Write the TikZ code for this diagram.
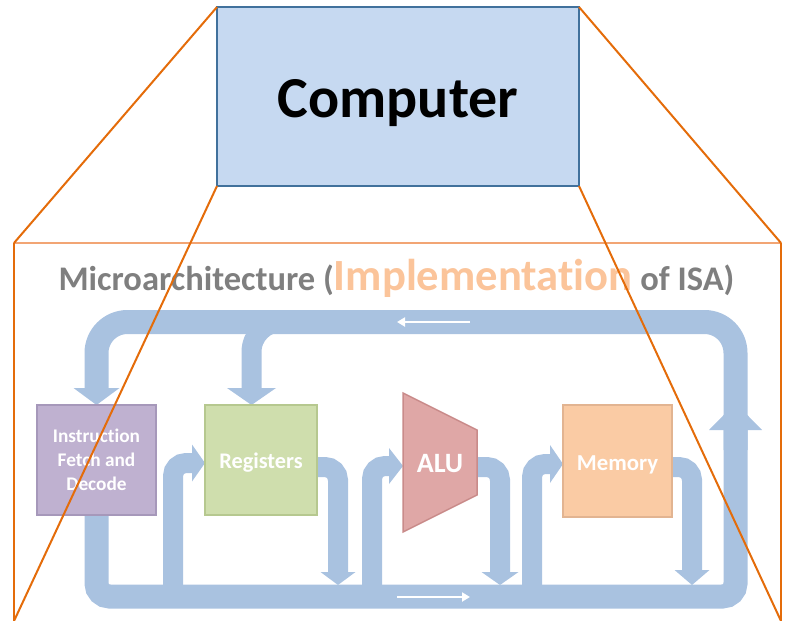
\documentclass[tikz,border=0pt]{standalone}
\usepackage{fontspec}
\setmainfont[Ligatures={NoCommon}]{Carlito}
\usetikzlibrary{arrows.meta}
\pgfdeclarelayer{bg}
\pgfsetlayers{bg,main}
\definecolor{bandc}{RGB}{169,194,224}
\definecolor{compfill}{RGB}{198,217,241}
\definecolor{compdraw}{RGB}{65,113,156}
\definecolor{orgD}{RGB}{228,108,10}
\definecolor{orgL}{RGB}{242,165,116}
\definecolor{ifdfill}{RGB}{191,177,208}
\definecolor{ifddraw}{RGB}{166,152,186}
\definecolor{regfill}{RGB}{207,222,173}
\definecolor{regdraw}{RGB}{182,200,143}
\definecolor{alufill}{RGB}{223,167,166}
\definecolor{aludraw}{RGB}{201,139,138}
\definecolor{memfill}{RGB}{250,203,164}
\definecolor{memdraw}{RGB}{226,180,145}
\definecolor{titlegrey}{RGB}{127,127,127}
\definecolor{implc}{RGB}{251,196,154}
\begin{document}
\begin{tikzpicture}[x=1pt,y=-1pt,
  bandwide/.style={draw=bandc,line width=24pt,line cap=butt},
  bandnarrow/.style={draw=bandc,line width=20pt,line cap=butt,rounded corners=13pt},
  unitbox/.style={rectangle,inner sep=0pt,outer sep=0pt,line width=1.5pt,text=white},
  whitearrow/.style={draw=white,line width=2.5pt,-{Triangle[width=9pt,length=8pt]}},
  orangeline/.style={draw=orgD,line width=2pt}
]
\useasboundingbox (0,0) rectangle (793,621);

% ---------- nodes ----------
\node[draw=compdraw, fill=compfill, line width=2pt, minimum width=362pt, minimum height=179pt,
      inner sep=0pt, outer sep=0pt, font=\bfseries\fontsize{58}{62}\selectfont,
      text height=41pt, text depth=0pt] (comp) at (398,96.5) {Computer};

\node[anchor=base, inner sep=0pt, font=\bfseries\fontsize{34.5}{40}\selectfont, text=titlegrey]
  (title) at (396.5,290) {Microarchitecture ({\color{implc}\fontsize{44.6}{50}\selectfont Implementation} of ISA)};

\node[unitbox, draw=ifddraw, fill=ifdfill, minimum width=119pt, minimum height=110pt, align=center,
      font=\bfseries\fontsize{19.3}{24}\selectfont] (ifd) at (96.5,460) {Instruction\\Fetch and\\Decode};
\node[unitbox, draw=regdraw, fill=regfill, minimum width=112pt, minimum height=110pt,
      font=\bfseries\fontsize{22.3}{26}\selectfont, text height=16pt, text depth=0pt] (reg) at (261,460) {Registers};
\node[unitbox, draw=memdraw, fill=memfill, minimum width=109pt, minimum height=112pt,
      font=\bfseries\fontsize{22.8}{26}\selectfont, text height=18pt, text depth=0pt] (mem) at (617.5,461) {Memory};
\draw[draw=aludraw, fill=alufill, line width=1.5pt] (403,393) -- (477,430) -- (477,495) -- (403,532) -- cycle;
\node[text=white, inner sep=0pt, font=\bfseries\fontsize{28}{30}\selectfont] (alu) at (440,463.3) {ALU};

% ---------- coordinates ----------
\coordinate (aluW) at (403,466);
\coordinate (aluE) at (477,467);
\coordinate (cBL) at (96.5,596.5);
\coordinate (cBR) at (735.5,596.5);
\coordinate (cTR) at (735.5,322);
\coordinate (cTL) at (96.5,322);
\coordinate (upTip) at (735.5,403);
\coordinate (upStart) at (735.5,450);
\coordinate (brStart) at (330,322);
\coordinate (brTop) at (251.5,322);
\coordinate (b1) at (173,596.5);
\coordinate (b2) at (372,596.5);
\coordinate (b3) at (532,596.5);
\coordinate (r1) at (338,585);
\coordinate (r2) at (500,585);
\coordinate (r3) at (692,585);
\coordinate (wa1) at (470,322);
\coordinate (wa2) at (397,322);
\coordinate (wb1) at (397,597);
\coordinate (wb2) at (470,597);
\coordinate (fTL) at (14,243);
\coordinate (fTR) at (781,243);
\coordinate (fBL) at (14,621);
\coordinate (fBR) at (781,621);

% ---------- bands ----------
\begin{pgfonlayer}{bg}
\draw[bandwide, rounded corners=13pt, -{Triangle[width=53pt,length=27pt,line width=0pt]}]
  (ifd.south) -- (cBL) -- (cBR) -- (upTip);
\draw[bandwide, rounded corners=31pt, -{Triangle[width=46pt,length=17pt,line width=0pt]}]
  (upStart) -- (cTR) -- (cTL) -- (ifd.north);
\draw[bandnarrow, rounded corners=30pt, -{Triangle[width=49pt,length=17pt,line width=0pt]}]
  (brStart) -- (brTop) -- ([xshift=-9.5pt]reg.north);
\draw[bandnarrow, -{Triangle[width=37pt,length=13pt,line width=0pt]}] (b1) |- ([yshift=-3pt]reg.west);
\draw[bandnarrow, -{Triangle[width=35pt,length=13pt,line width=0pt]}] ([yshift=-7pt]reg.east) -| (r1);
\draw[bandnarrow, -{Triangle[width=36pt,length=14pt,line width=0pt]}] (b2) |- (aluW);
\draw[bandnarrow, -{Triangle[width=37pt,length=13pt,line width=0pt]}] (aluE) -| (r2);
\draw[bandnarrow, -{Triangle[width=38pt,length=13pt,line width=0pt]}] (b3) |- ([yshift=-3pt]mem.west);
\draw[bandnarrow, -{Triangle[width=35pt,length=15pt,line width=0pt]}] ([yshift=-6pt]mem.east) -| (r3);
\draw[whitearrow] (wa1) -- (wa2);
\draw[whitearrow] (wb1) -- (wb2);
\end{pgfonlayer}

% ---------- orange frame ----------
\draw[draw=orgL, line width=2.5pt] (fTL) -- (fTR);
\draw[orangeline] (fTL) -- (fBL);
\draw[orangeline] (fTR) -- (fBR);
\draw[orangeline] (comp.north west) -- (fTL);
\draw[orangeline] (comp.north east) -- (fTR);
\draw[orangeline] (comp.south west) -- (fBL);
\draw[orangeline] (comp.south east) -- (fBR);
\end{tikzpicture}
\end{document}
